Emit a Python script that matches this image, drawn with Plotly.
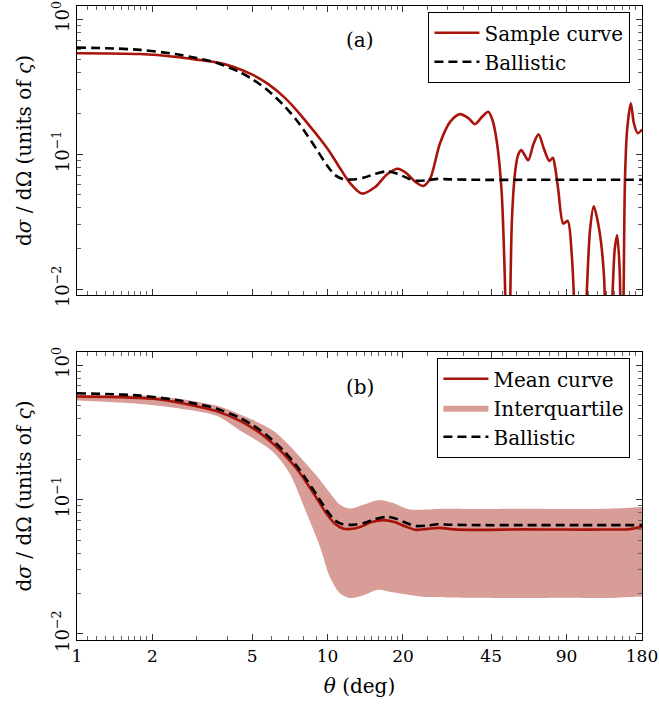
import plotly.graph_objects as go

# ---------------- data ----------------
theta_ballistic = [1, 1.3, 1.785, 2.5, 3.0, 3.6, 4.47, 5.06, 5.8, 6.66, 7.5, 8.26, 9.0,
                   9.93, 10.7, 11.5, 12.5, 14, 15.5, 17.3, 19, 21, 22.5, 25, 27.5, 31,
                   40, 60, 100, 180]
ballistic = [0.616, 0.61, 0.593, 0.55, 0.515, 0.475, 0.405, 0.355, 0.295, 0.232, 0.180,
             0.140, 0.110, 0.083, 0.070, 0.0655, 0.0648, 0.067, 0.0715, 0.0745, 0.0715,
             0.066, 0.0635, 0.064, 0.0655, 0.065, 0.0645, 0.0645, 0.0645, 0.0645]

theta_sample = [1, 1.785, 2.5, 3.0, 3.6, 4.2, 5.06, 5.8, 6.66, 7.5, 8.26, 9.33, 10.24,
                11.2, 12.3, 13.7, 15.5, 17.3, 19.1, 20.5, 22.5, 24.1, 25.7, 28.1, 30.9,
                33.8, 36.5, 38.8, 41.5, 43.8, 45.5, 47.3, 49.5, 51, 52.5, 54.4, 56,
                57.5, 59.3, 61.3, 63.3, 66.5, 69.6, 73, 76.8, 79.3, 81, 83.4, 87.3,
                90.9, 94.5, 102, 111.6, 115.5, 121.7, 127, 131, 140, 143.3, 146.6,
                150, 153.9, 157, 162.4, 167, 172.9, 180]
sample = [0.56, 0.552, 0.525, 0.502, 0.479, 0.445, 0.385, 0.33, 0.268, 0.213, 0.172,
          0.13, 0.103, 0.079, 0.061, 0.051, 0.057, 0.071, 0.078, 0.073, 0.062, 0.058,
          0.066, 0.12, 0.174, 0.198, 0.185, 0.167, 0.19, 0.206, 0.18, 0.127, 0.054,
          0.0123, 0.001, 0.031, 0.072, 0.097, 0.107, 0.098, 0.090, 0.12, 0.14, 0.11,
          0.089, 0.094, 0.08, 0.054, 0.0306, 0.032, 0.0174, 0.001, 0.0273, 0.041,
          0.027, 0.0123, 0.001, 0.0194, 0.025, 0.0138, 0.001, 0.064, 0.151, 0.238,
          0.17, 0.143, 0.152]

theta_mean = [1, 1.5, 2, 2.5, 3, 3.6, 4.47, 5.06, 5.8, 6.66, 7.5, 8.26, 9.0, 9.93,
              10.7, 11.5, 12.3, 13.5, 15, 16.7, 18.5, 20.5, 22.5, 25, 28, 32, 40, 60,
              90, 130, 160, 180]
mean = [0.585, 0.578, 0.562, 0.53, 0.495, 0.455, 0.385, 0.337, 0.28, 0.22, 0.171,
        0.133, 0.104, 0.078, 0.066, 0.061, 0.0603, 0.0625, 0.068, 0.0703, 0.068,
        0.063, 0.0595, 0.0605, 0.0615, 0.060, 0.0595, 0.060, 0.0598, 0.0598,
        0.0602, 0.0626]

theta_band = [1, 1.785, 2.5, 3.6, 4.47, 5.06, 6.08, 7.08, 8.26, 9.33, 10.2, 11.2,
              12.3, 14, 15.9, 18, 21.3, 25, 30, 40, 60, 90, 130, 180]
band_upper = [0.60, 0.595, 0.565, 0.50, 0.43, 0.39, 0.325, 0.25, 0.182, 0.14, 0.113,
              0.092, 0.0858, 0.092, 0.099, 0.095, 0.0843, 0.0845, 0.0855, 0.085,
              0.0855, 0.085, 0.0855, 0.088]
band_lower = [0.545, 0.515, 0.48, 0.42, 0.327, 0.285, 0.225, 0.155, 0.0787, 0.0446,
              0.0267, 0.0201, 0.0185, 0.0195, 0.0213, 0.0205, 0.0195, 0.0188, 0.0187,
              0.0186, 0.0185, 0.0186, 0.0185, 0.019]

x_tickvals = [1, 2, 5, 10, 20, 45, 90, 180]
x_ticktext = ["1", "2", "5", "10", "20", "45", "90", "180"]
x_minor = ([1.1, 1.2, 1.3, 1.4, 1.5, 1.6, 1.7, 1.8, 1.9, 3, 4, 6, 7, 8, 9]
           + [11, 12, 13, 14, 15, 16, 17, 18, 19, 25, 30, 35, 40]
           + [50, 56.67, 63.33, 70, 76.67, 83.33]
           + [100, 110, 120, 130, 140, 150, 160, 170])
y_tickvals = [0.01, 0.1, 1]
y_ticktext = ["10<sup>−2</sup>", "10<sup>−1</sup>", "10<sup>0</sup>"]
y_minor = [0.02, 0.03, 0.04, 0.05, 0.06, 0.07, 0.08, 0.09,
           0.2, 0.3, 0.4, 0.5, 0.6, 0.7, 0.8, 0.9]

RED = "#A8140C"
BAND = "#D99D98"
FONT = "DejaVu Serif"
FS = 20
TFS = 17
DASH = "9px,5px"
SPL = dict(shape="spline", smoothing=0.8)

fig = go.Figure()

# ---------------- panel (a) ----------------
fig.add_trace(go.Scatter(x=theta_sample, y=sample, mode="lines", name="Sample curve",
                         line=dict(color=RED, width=2.6, **SPL),
                         xaxis="x", yaxis="y", legend="legend", legendgroup="a1"))
fig.add_trace(go.Scatter(x=theta_ballistic, y=ballistic, mode="lines", name="Ballistic",
                         line=dict(color="black", width=2.6, dash=DASH, **SPL),
                         xaxis="x", yaxis="y", legend="legend", legendgroup="a2"))

# ---------------- panel (b) ----------------
fig.add_trace(go.Scatter(x=theta_band, y=band_lower, mode="lines", showlegend=False,
                         line=dict(width=0, **SPL), legendgroup="b2",
                         hoverinfo="skip", xaxis="x2", yaxis="y2", legend="legend2"))
fig.add_trace(go.Scatter(x=theta_band, y=band_upper, mode="lines", name="Interquartile",
                         fill="tonexty", fillcolor=BAND,
                         line=dict(width=0, color=BAND, **SPL), legendgroup="b2",
                         xaxis="x2", yaxis="y2", legend="legend2", legendrank=2))
fig.add_trace(go.Scatter(x=theta_mean, y=mean, mode="lines", name="Mean curve",
                         line=dict(color=RED, width=2.6, **SPL), legendgroup="b1",
                         xaxis="x2", yaxis="y2", legend="legend2", legendrank=1))
fig.add_trace(go.Scatter(x=theta_ballistic, y=ballistic, mode="lines", name="Ballistic",
                         line=dict(color="black", width=2.6, dash=DASH, **SPL),
                         legendgroup="b3",
                         xaxis="x2", yaxis="y2", legend="legend2", legendrank=3))

YR = [-2.045, 0.098]
XR = [0, 2.25527]


def xaxis(show_labels, anchor):
    return dict(type="log", range=XR, anchor=anchor, automargin=False,
                tickmode="array", tickvals=x_tickvals, ticktext=x_ticktext,
                showticklabels=show_labels, ticklabeloverflow="allow",
                ticks="inside", ticklen=6, tickwidth=0.9, tickcolor="#333",
                minor=dict(tickmode="array", tickvals=x_minor, ticks="inside",
                           ticklen=3.5, tickwidth=0.8, tickcolor="#666"),
                showline=True, linecolor="black", linewidth=1.4, mirror="allticks",
                showgrid=False, zeroline=False,
                tickfont=dict(family=FONT, size=TFS, color="black"))


def yaxis(domain, anchor):
    return dict(type="log", range=YR, domain=domain, anchor=anchor, automargin=False,
                tickmode="array", tickvals=y_tickvals, ticktext=y_ticktext,
                tickangle=-90, ticklabeloverflow="allow",
                ticks="inside", ticklen=6, tickwidth=0.9, tickcolor="#333",
                minor=dict(tickmode="array", tickvals=y_minor, ticks="inside",
                           ticklen=3.5, tickwidth=0.8, tickcolor="#666"),
                showline=True, linecolor="black", linewidth=1.4, mirror="allticks",
                showgrid=False, zeroline=False,
                tickfont=dict(family=FONT, size=TFS + 1, color="black"),
                title=dict(text="d<i>σ</i> / dΩ (units of <i>ς</i>)",
                           font=dict(family=FONT, size=FS, color="black"),
                           standoff=12))


legend_common = dict(xanchor="right", yanchor="top", bgcolor="white",
                     bordercolor="black", borderwidth=1.3,
                     font=dict(family=FONT, size=FS, color="black"),
                     tracegroupgap=3, traceorder="normal", itemwidth=45)

fig.update_layout(
    width=659, height=707,
    margin=dict(l=77, r=17, t=6, b=67),
    paper_bgcolor="white", plot_bgcolor="white",
    font=dict(family=FONT, size=FS, color="black"),
    xaxis=xaxis(False, "y"),
    yaxis=yaxis([0.544, 1.0], "x"),
    xaxis2=xaxis(True, "y2"),
    yaxis2=yaxis([0.0, 0.4543], "x2"),
    legend=dict(x=0.979, y=0.9905, **legend_common),
    legend2=dict(x=0.979, y=0.4448, **legend_common),
    annotations=[
        dict(text="(a)", x=0.5, y=0.931, xref="x domain", yref="y domain",
             showarrow=False, font=dict(family=FONT, size=FS, color="black")),
        dict(text="(b)", x=0.5, y=0.927, xref="x2 domain", yref="y2 domain",
             showarrow=False, font=dict(family=FONT, size=FS, color="black")),
    ],
)
fig.update_layout(xaxis2=dict(title=dict(text="<i>θ</i> (deg)",
                                         font=dict(family=FONT, size=FS, color="black"),
                                         standoff=14)))

fig.write_html("out.html",
               config={"displayModeBar": False},
               post_script="document.body.style.margin='0';"
                           "document.body.style.overflow='hidden';")
